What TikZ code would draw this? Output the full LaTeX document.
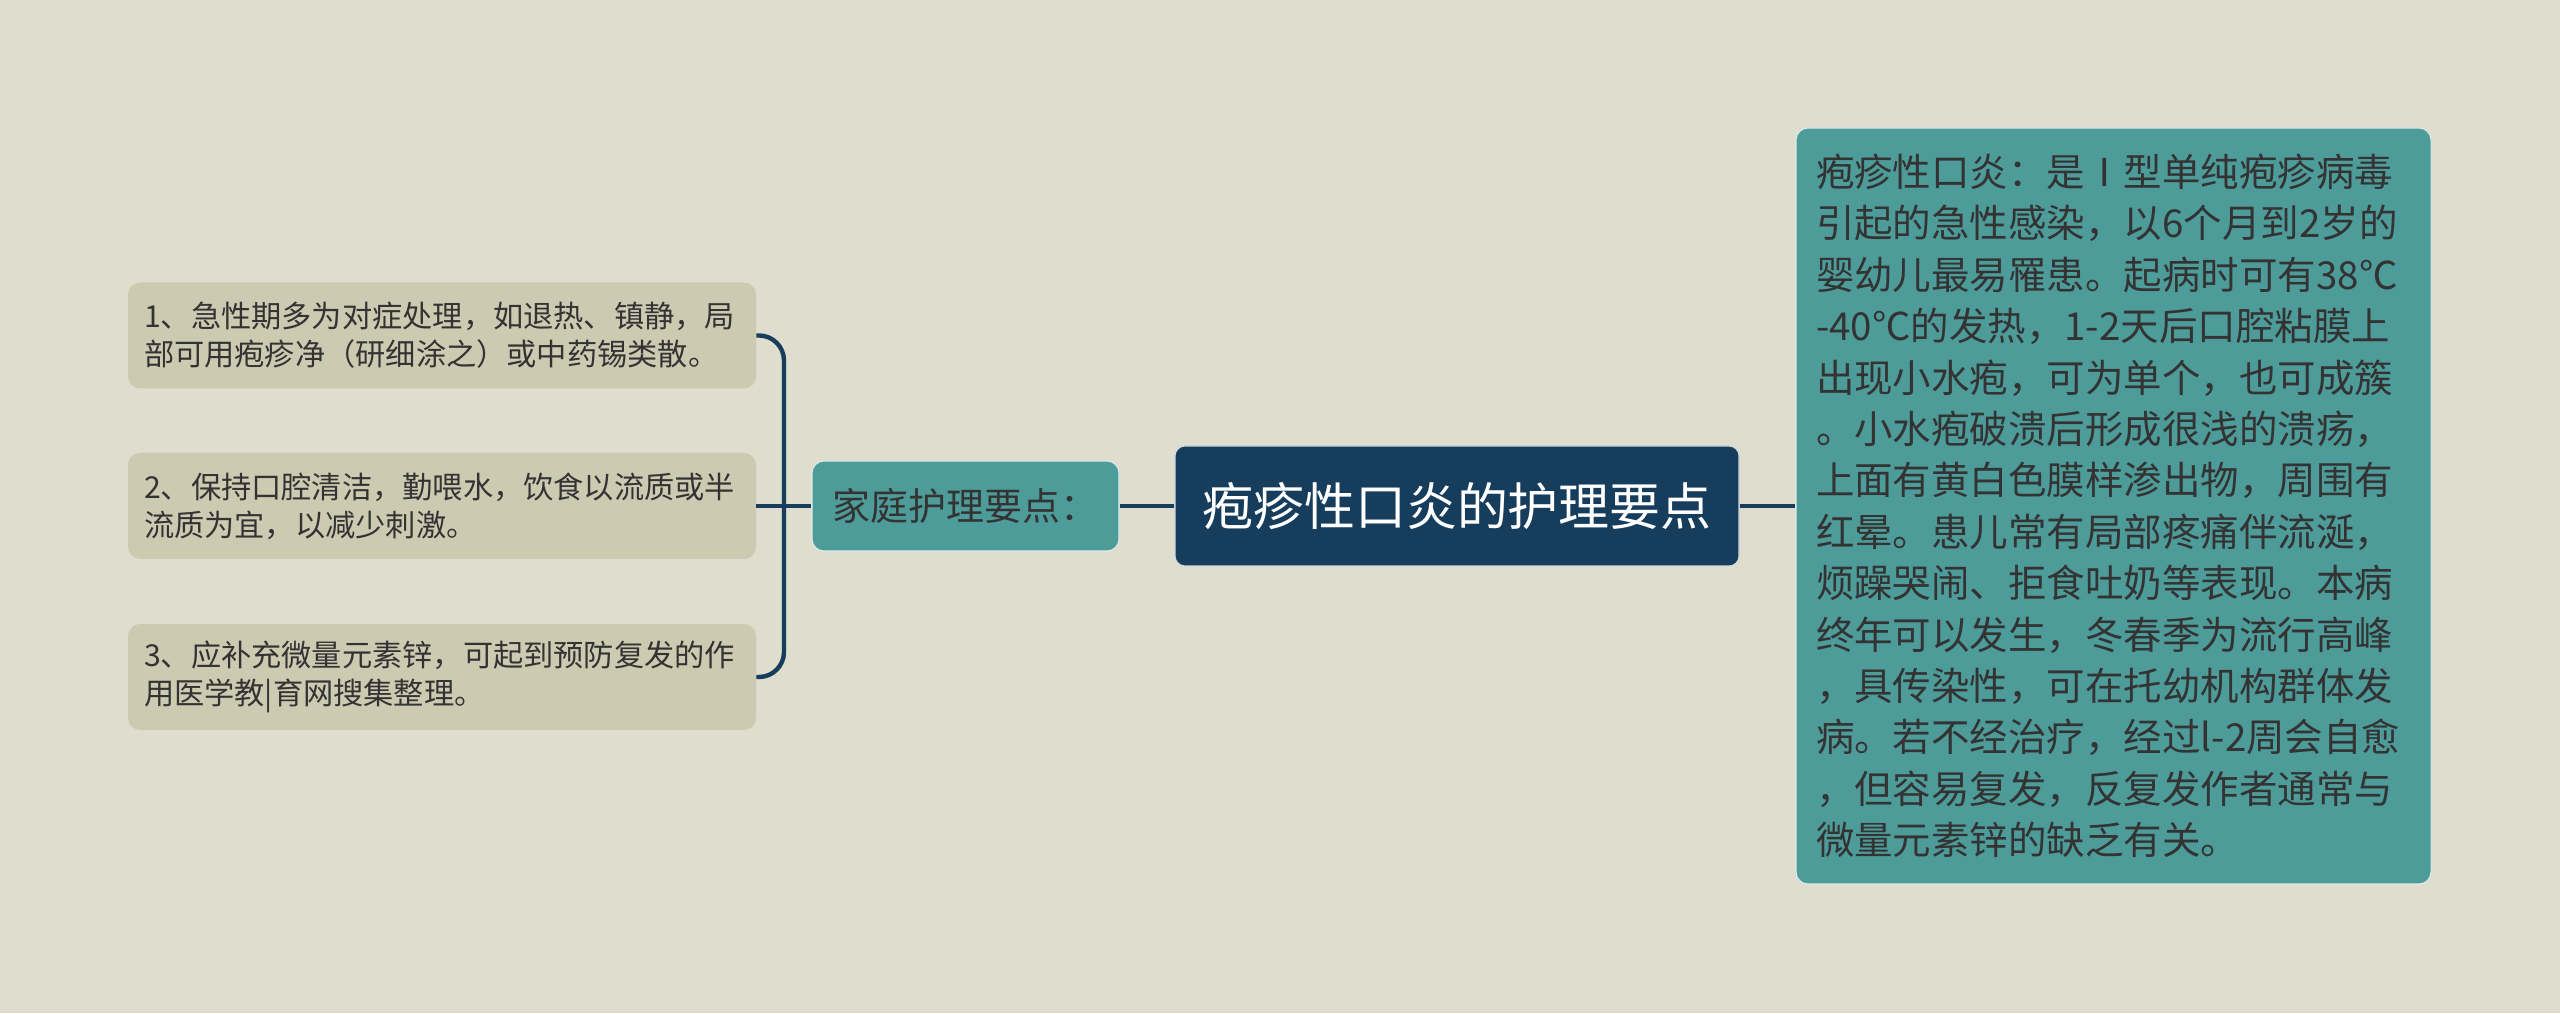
\documentclass[tikz,border=0pt]{standalone}
\usepackage{fontspec}
\usepackage{xcolor}
\usepackage{tikz}
\newfontfamily\cjk{Noto Sans CJK SC}

\definecolor{paper}{RGB}{223,221,206}
\definecolor{tipgray}{RGB}{205,202,178}
\definecolor{sea}{RGB}{78,156,154}
\definecolor{navy}{RGB}{23,61,93}
\definecolor{ink}{RGB}{51,51,51}

\tikzset{
  tipbox/.style={fill=tipgray, rounded corners=0.24cm, text=ink, align=left,
    text width=11.92cm, inner xsep=0.32cm, inner ysep=0pt, minimum height=2.12cm,
    font={\cjk\fontsize{17.2pt}{21.6pt}\selectfont}},
  homebox/.style={fill=sea, draw=white!80!sea, line width=0.6pt, rounded corners=0.24cm,
    text=ink, minimum width=6.14cm, minimum height=1.8cm,
    font={\cjk\fontsize{21.6pt}{26pt}\selectfont}},
  titlebox/.style={fill=navy, draw=white!80!navy, line width=0.6pt, rounded corners=0.2cm,
    text=white, minimum width=11.28cm, minimum height=2.4cm,
    font={\cjk\fontsize{29pt}{34pt}\selectfont}},
  detailbox/.style={fill=sea, draw=white!80!sea, line width=0.6pt, rounded corners=0.24cm,
    text=ink, align=left, text width=11.9cm, inner xsep=0.4cm, inner ysep=0pt,
    minimum height=15.12cm, font={\cjk\fontsize{21.9pt}{29.25pt}\selectfont}},
  link/.style={draw=navy, line width=2.5pt}
}

\begin{document}
\begin{tikzpicture}
        \fill [paper] (0,0) rectangle (51.2,20.26);                  %background

        \node [titlebox]  (title)  at (29.14,10.14) {疱疹性口炎的护理要点};
        \node [homebox]   (home)   at (19.31,10.14) {家庭护理要点：};
        \node [tipbox]    (tip1)   at (8.84,13.55)  {1、急性期多为对症处理，如退热、镇静，局\\部可用疱疹净（研细涂之）或中药锡类散。};
        \node [tipbox]    (tip2)   at (8.84,10.14)  {2、保持口腔清洁，勤喂水，饮食以流质或半\\流质为宜，以减少刺激。};
        \node [tipbox]    (tip3)   at (8.84,6.72)   {3、应补充微量元素锌，可起到预防复发的作\\用医学教|育网搜集整理。};
        \node [detailbox] (detail) at (42.27,10.14) {疱疹性口炎：是Ⅰ型单纯疱疹病毒\\
                引起的急性感染，以6个月到2岁的\\
                婴幼儿最易罹患。起病时可有38℃\\
                -40℃的发热，1-2天后口腔粘膜上\\
                出现小水疱，可为单个，也可成簇\\
                。小水疱破溃后形成很浅的溃疡，\\
                上面有黄白色膜样渗出物，周围有\\
                红晕。患儿常有局部疼痛伴流涎，\\
                烦躁哭闹、拒食吐奶等表现。本病\\
                终年可以发生，冬春季为流行高峰\\
                ，具传染性，可在托幼机构群体发\\
                病。若不经治疗，经过l-2周会自愈\\
                ，但容易复发，反复发作者通常与\\
                微量元素锌的缺乏有关。};

        \coordinate (fork) at (15.68,10.14);                         %bracket
        \draw [link] (title) -- (detail);                            %
        \draw [link] (title) -- (home);                              %
        \draw [link] (home)  -- (fork);                              %
        \draw [link, rounded corners=0.5cm] (tip1.east) -| (fork) |- (tip3.east);
        \draw [link] (tip2)  -- (fork);                              %
\end{tikzpicture}
\end{document}
